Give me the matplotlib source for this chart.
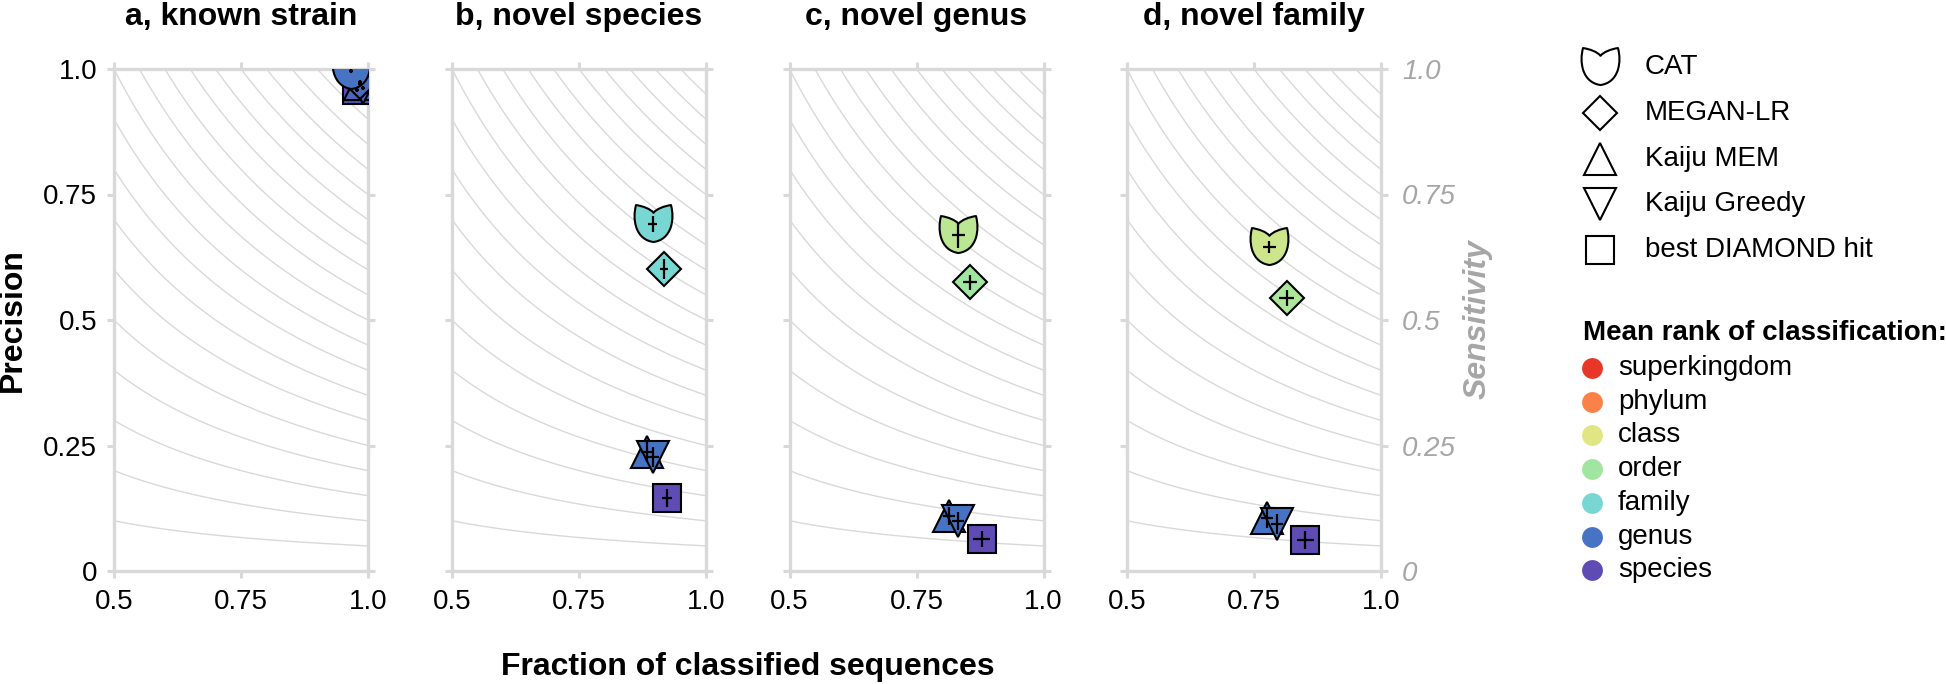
import numpy as np
import matplotlib

matplotlib.use("Agg")
import matplotlib.pyplot as plt
from matplotlib.path import Path
from matplotlib.colors import LinearSegmentedColormap, Normalize

plt.rcParams["font.family"] = ["Liberation Sans", "DejaVu Sans"]

# --- data -------------------------------------------------------------
panels = ["a, known strain", "b, novel species", "c, novel genus", "d, novel family"]
tools = ["CAT", "MEGAN-LR", "Kaiju MEM", "Kaiju Greedy", "best DIAMOND hit"]
ranks = ["superkingdom", "phylum", "class", "order", "family", "genus", "species"]
rank_colors = ["#e63728", "#fa8248", "#e1e682", "#a0e6a0", "#78d7d2", "#4673c3", "#5f4bb4"]

# fraction of classified sequences, one value per panel
cat_frac = [0.966, 0.895, 0.832, 0.780]
megan_frac = [0.985, 0.918, 0.855, 0.814]
mem_frac = [0.985, 0.884, 0.814, 0.775]
greedy_frac = [0.990, 0.895, 0.832, 0.795]
diamond_frac = [0.978, 0.923, 0.878, 0.851]

# precision
cat_prec = [0.996, 0.691, 0.669, 0.646]
megan_prec = [0.975, 0.602, 0.575, 0.544]
mem_prec = [0.970, 0.238, 0.110, 0.105]
greedy_prec = [0.963, 0.227, 0.100, 0.094]
diamond_prec = [0.958, 0.145, 0.064, 0.062]

# error bars (fraction, precision)
cat_xerr = [0.004, 0.009, 0.013, 0.013]
cat_yerr = [0.004, 0.016, 0.025, 0.012]
megan_xerr = [0.004, 0.008, 0.014, 0.014]
megan_yerr = [0.004, 0.020, 0.015, 0.016]
mem_xerr = [0.004, 0.012, 0.012, 0.012]
mem_yerr = [0.004, 0.020, 0.018, 0.020]
greedy_xerr = [0.004, 0.012, 0.012, 0.012]
greedy_yerr = [0.004, 0.020, 0.018, 0.020]
diamond_xerr = [0.004, 0.010, 0.016, 0.017]
diamond_yerr = [0.004, 0.018, 0.016, 0.018]

# mean rank of classification (0 = superkingdom ... 6 = species)
cat_rank = [5.0, 4.0, 2.6, 2.3]
megan_rank = [5.2, 4.0, 3.0, 2.8]
mem_rank = [5.3, 5.0, 5.0, 5.0]
greedy_rank = [5.3, 5.0, 5.0, 5.0]
diamond_rank = [6.0, 6.0, 6.0, 6.0]

sens_levels = np.arange(0.05, 1.0, 0.05)

# --- style ------------------------------------------------------------
GRID = "#d9d9d9"
SENS_GRAY = "#a6a6a6"
W, H = 1946, 684


def cat_marker():
    # two-lobed "tulip" outline with a rounded bottom
    verts = [
        (-0.9, 1.0),
        (-1.0, 0.6), (-1.0, 0.25), (-0.9, -0.1),
        (-0.75, -0.6), (-0.4, -0.85), (0.0, -0.9),
        (0.4, -0.85), (0.75, -0.6), (0.9, -0.1),
        (1.0, 0.25), (1.0, 0.6), (0.9, 1.0),
        (0.55, 0.95), (0.15, 0.8), (0.0, 0.6),
        (-0.15, 0.8), (-0.55, 0.95), (-0.9, 1.0),
        (-0.9, 1.0),
    ]
    codes = [Path.MOVETO] + [Path.CURVE4] * 18 + [Path.CLOSEPOLY]
    return Path(verts, codes)


CAT = cat_marker()
markers = {
    "CAT": (CAT, 28),
    "MEGAN-LR": ("D", 17.3),
    "Kaiju MEM": ("^", 23),
    "Kaiju Greedy": ("v", 23),
    "best DIAMOND hit": ("s", 20),
}

series = {
    "CAT": (cat_frac, cat_prec, cat_xerr, cat_yerr, cat_rank),
    "MEGAN-LR": (megan_frac, megan_prec, megan_xerr, megan_yerr, megan_rank),
    "Kaiju MEM": (mem_frac, mem_prec, mem_xerr, mem_yerr, mem_rank),
    "Kaiju Greedy": (greedy_frac, greedy_prec, greedy_xerr, greedy_yerr, greedy_rank),
    "best DIAMOND hit": (diamond_frac, diamond_prec, diamond_xerr, diamond_yerr, diamond_rank),
}
draw_order = ["best DIAMOND hit", "Kaiju MEM", "Kaiju Greedy", "MEGAN-LR", "CAT"]

cmap = LinearSegmentedColormap.from_list("rank", rank_colors)
norm = Normalize(0, len(ranks) - 1)

fig = plt.figure(figsize=(W / 100, H / 100), dpi=100)

lefts = [114, 452, 789.5, 1127]
ax_w, ax_top, ax_bot = 254, 69, 571
xticks = [0.5, 0.75, 1.0]
xlabels = ["0.5", "0.75", "1.0"]
yticks = [0, 0.25, 0.5, 0.75, 1.0]
ylabels = ["0", "0.25", "0.5", "0.75", "1.0"]

xx = np.linspace(0.5, 1.0, 300)
for i, title in enumerate(panels):
    ax = fig.add_axes([lefts[i] / W, 1 - ax_bot / H, ax_w / W, (ax_bot - ax_top) / H])
    ax.set_xlim(0.5, 1.0)
    ax.set_ylim(0, 1.0)
    for s in sens_levels:
        ax.plot(xx, s / xx, color=GRID, lw=1.0, zorder=1)
    for name in draw_order:
        fx, py, ex, ey, rk = series[name]
        mk, ms = markers[name]
        ax.plot(fx[i], py[i], marker=mk, ms=ms, mfc=cmap(norm(rk[i])), mec="black",
                mew=1.5, ls="none", zorder=3)
        ax.errorbar(fx[i], py[i], xerr=ex[i], yerr=ey[i], fmt="none", ecolor="black",
                    elinewidth=1.6, capsize=0, zorder=4)
    for sp in ax.spines.values():
        sp.set_color(GRID)
        sp.set_linewidth(2.4)
    ax.set_xticks(xticks, xlabels)
    ax.set_yticks(yticks, ylabels)
    ax.tick_params(which="both", direction="out", length=5, width=2.2, color=GRID,
                   top=True, right=True, labelsize=20, labelcolor="black")
    ax.tick_params(axis="x", pad=8)
    ax.tick_params(axis="y", pad=7, labelleft=(i == 0), labelright=(i == 3))
    if i == 3:
        ax.tick_params(axis="y", pad=10)
        for t in ax.yaxis.get_major_ticks():
            t.label2.set_color(SENS_GRAY)
            t.label2.set_fontstyle("italic")
    ax.text(0.5, 1 + 44 / (ax_bot - ax_top), title, transform=ax.transAxes, ha="center",
            va="baseline", fontsize=23, fontweight="bold")

fig.text(13 / W, 1 - 320 / H, "Precision", rotation=90, ha="center", va="center",
         fontsize=23, fontweight="bold")
fig.text(748 / W, 1 - 667 / H, "Fraction of classified sequences", ha="center", va="center",
         fontsize=23, fontweight="bold")
fig.text(1478 / W, 1 - 319 / H, "Sensitivity", rotation=90, ha="center", va="center",
         fontsize=23, fontweight="bold", fontstyle="italic", color=SENS_GRAY)

# --- legends ----------------------------------------------------------
lax = fig.add_axes([0, 0, 1, 1])
lax.set_xlim(0, W)
lax.set_ylim(H, 0)
lax.axis("off")
for j, name in enumerate(tools):
    y = 67 + 45.8 * j
    mk, ms = markers[name]
    lax.plot(1600, y, marker=mk, ms=ms, mfc="white", mec="black", mew=1.5, clip_on=False)
    lax.text(1645, y, name, va="center", ha="left", fontsize=20)

lax.text(1583, 333, "Mean rank of classification:", va="center", ha="left", fontsize=20,
         fontweight="bold")
for j, name in enumerate(ranks):
    y = 368 + 33.7 * j
    lax.plot(1592, y, marker="o", ms=15, mfc=rank_colors[j], mec=rank_colors[j], mew=0,
             clip_on=False)
    lax.text(1618, y, name, va="center", ha="left", fontsize=20)

fig.savefig("out.png", dpi=100)
plt.close(fig)
